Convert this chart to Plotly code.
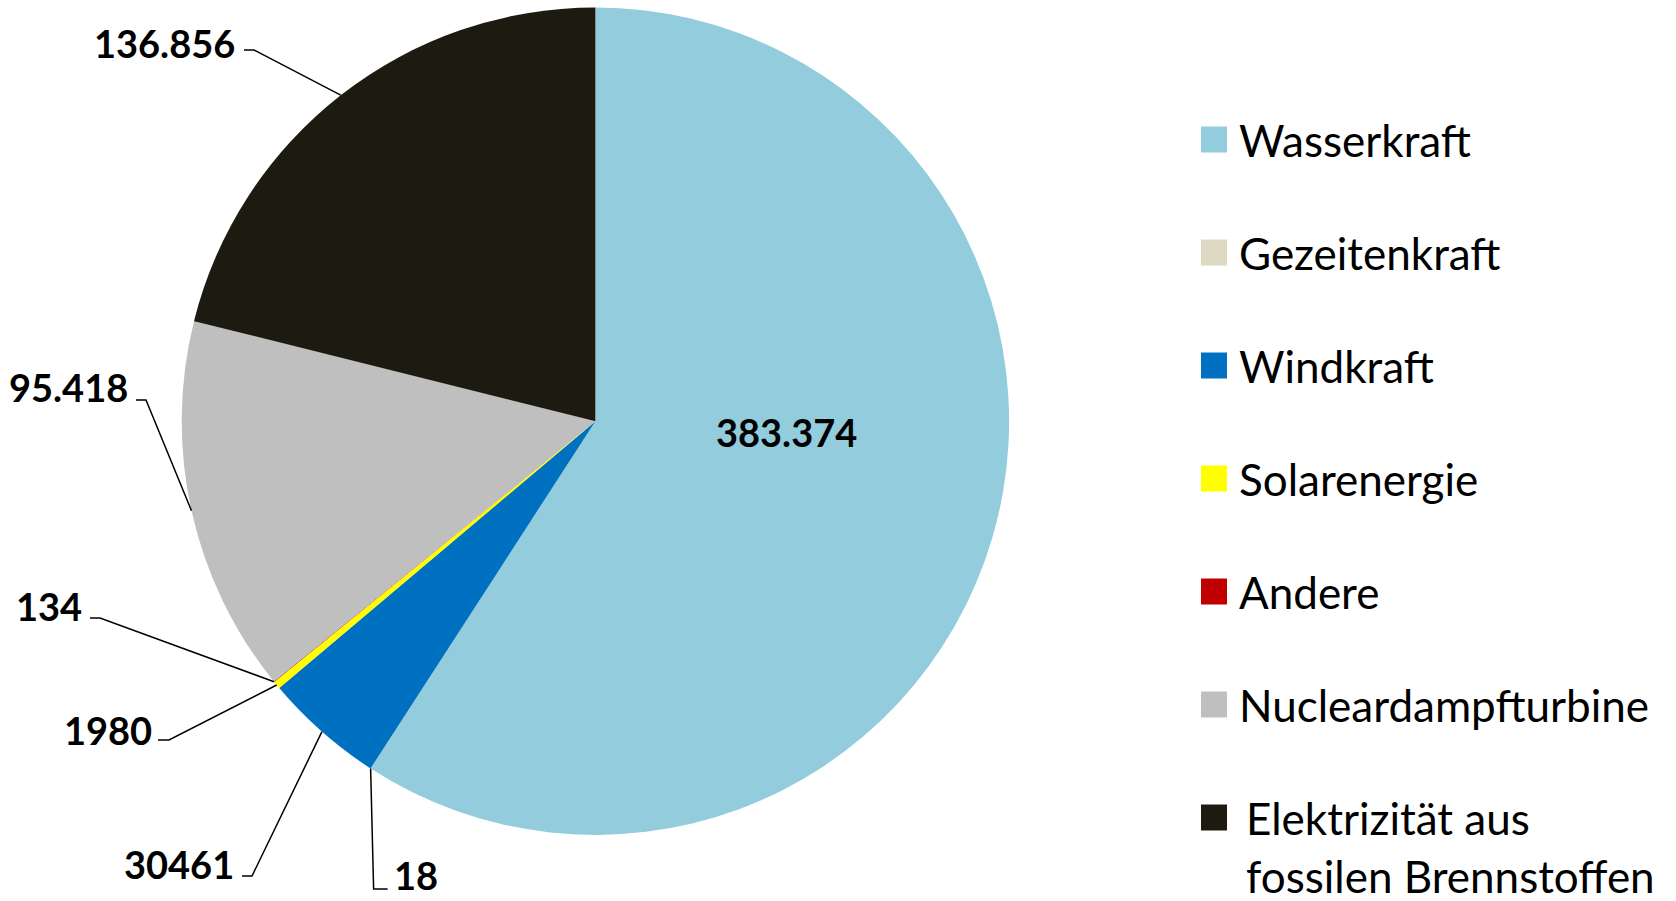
import math
import plotly.graph_objects as go

# ---------------- data ----------------
categories = ["Wasserkraft", "Gezeitenkraft", "Windkraft", "Solarenergie",
              "Andere", "Nucleardampfturbine",
              "Elektrizität aus fossilen Brennstoffen"]
values = [383374, 18, 30461, 1980, 134, 95418, 136856]
value_labels = ["383.374", "18", "30461", "1980", "134", "95.418", "136.856"]
legend_lines = [["Wasserkraft"], ["Gezeitenkraft"], ["Windkraft"], ["Solarenergie"],
                ["Andere"], ["Nucleardampfturbine"],
                ["Elektrizität aus", "fossilen Brennstoffen"]]
colors = ["#93CDDD", "#DDD9C3", "#0070C0", "#FFFF00", "#C00000", "#BFBFBF", "#1D1B10"]

# ---------------- layout constants (pixels) ----------------
W, H = 1676, 901
CX, CY, R = 595.4, 421.2, 413.7
FONT = "Lato"

def px(x):
    return x / W

def py(y):
    return 1 - y / H

fig = go.Figure()
fig.add_trace(go.Pie(
    labels=categories, values=values, sort=False, direction="clockwise",
    rotation=0, marker=dict(colors=colors, line=dict(width=0)),
    textinfo="none", hoverinfo="label+value", showlegend=False,
    domain=dict(x=[px(CX - R), px(CX + R)], y=[py(CY + R), py(CY - R)]),
))

total = sum(values)
cum = 0
mids = []
for v in values:
    mids.append((cum + v / 2) / total)
    cum += v

def edge_point(i, frac=1.0):
    th = 2 * math.pi * mids[i]
    return CX + frac * R * math.sin(th), CY - frac * R * math.cos(th)

shapes = []
annotations = []
lab_font = dict(family=FONT, size=38, color="black", weight="bold")

# label placement: (text x, text y, anchor, elbow start x, elbow end x, elbow y)
placements = {
    6: (237, 43, "right", 244, 254, 50),
    5: (130, 387, "right", 136, 146, 400),
    4: (84, 606, "right", 90, 100, 618),
    3: (154, 730, "right", 158, 169, 740),
    2: (236, 864, "right", 242, 252, 876),
}
for i, (tx, ty, anc, ex0, ex1, ey) in placements.items():
    x_e, y_e = edge_point(i)
    shapes.append(dict(type="path", xref="paper", yref="paper",
                       path=f"M {px(ex0)},{py(ey)} L {px(ex1)},{py(ey)} L {px(x_e)},{py(y_e)}",
                       line=dict(color="black", width=1.5)))
    annotations.append(dict(x=px(tx), y=py(ty), xref="paper", yref="paper",
                            text=value_labels[i], showarrow=False, xanchor=anc,
                            yanchor="middle", font=lab_font))

# Gezeitenkraft (tiny slice) - vertical leader down, label to the right
x_e, y_e = edge_point(1)
shapes.append(dict(type="path", xref="paper", yref="paper",
                   path=f"M {px(x_e)},{py(y_e)} L {px(x_e + 3)},{py(889)} L {px(x_e + 17)},{py(889)}",
                   line=dict(color="black", width=1.5)))
annotations.append(dict(x=px(x_e + 21), y=py(875), xref="paper", yref="paper",
                        text=value_labels[1], showarrow=False, xanchor="left",
                        yanchor="middle", font=lab_font))

# Wasserkraft inside label
annotations.append(dict(x=px(786), y=py(432), xref="paper", yref="paper",
                        text=value_labels[0], showarrow=False, xanchor="center",
                        yanchor="middle", font=lab_font))

# ---------------- custom legend ----------------
leg_font = dict(family=FONT, size=44, color="black")
SQ_X0, SQ = 1201, 26
y0, step = 139.5, 113
for k, (col, lines) in enumerate(zip(colors, legend_lines)):
    yc = y0 + k * step
    if len(lines) > 1:
        yc = 817.5
    shapes.append(dict(type="rect", xref="paper", yref="paper",
                       x0=px(SQ_X0), x1=px(SQ_X0 + SQ), y0=py(yc - SQ / 2), y1=py(yc + SQ / 2),
                       fillcolor=col, line=dict(width=0)))
    if len(lines) == 1:
        annotations.append(dict(x=px(1237), y=py(yc), xref="paper", yref="paper",
                                text=lines[0], showarrow=False, xanchor="left",
                                yanchor="middle", font=leg_font))
    else:
        for j, t in enumerate(lines):
            annotations.append(dict(x=px(1244), y=py(yc + j * 58), xref="paper", yref="paper",
                                    text=t, showarrow=False, xanchor="left",
                                    yanchor="middle", font=leg_font))

fig.update_layout(width=W, height=H, margin=dict(l=0, r=0, t=0, b=0),
                  paper_bgcolor="white", plot_bgcolor="white",
                  shapes=shapes, annotations=annotations, showlegend=False)
fig.write_html("out.html", config={"displayModeBar": False},
               post_script="document.body.style.margin='0px';document.body.style.overflow='hidden';")
